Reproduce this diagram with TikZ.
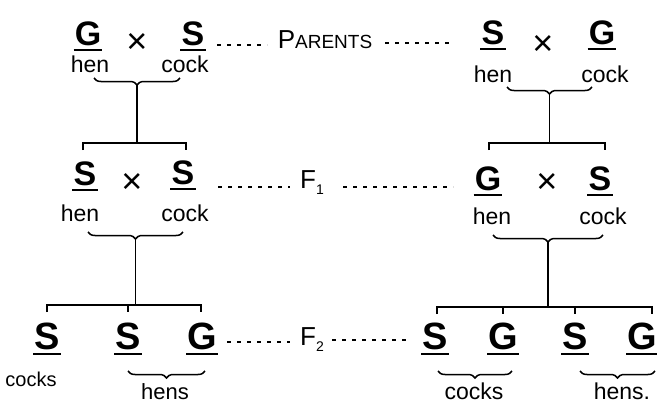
\documentclass[tikz,border=0pt]{standalone}
\usepackage{fontspec}
\setmainfont{Liberation Sans}
\usetikzlibrary{decorations.pathreplacing}
\begin{document}
\begin{tikzpicture}[x=1pt,y=1pt,
 gene/.style={font=\fontsize{34}{38}\selectfont\bfseries, inner sep=0pt},
 geneb/.style={font=\fontsize{38}{42}\selectfont\bfseries, inner sep=0pt},
 cross/.style={font=\fontsize{36}{38}\selectfont, inner sep=0pt},
 lab/.style={font=\fontsize{23}{26}\selectfont, inner sep=0pt},
 gen/.style={font=\fontsize{26}{28}\selectfont, inner sep=0pt},
 ln/.style={line width=1.5pt},
 ul/.style={line width=2.2pt},
 dots/.style={line width=1.8pt, dash pattern=on 4pt off 6pt},
 brc/.style={line width=1.5pt, decorate, decoration={brace, mirror, amplitude=7pt}},
]
\useasboundingbox (0,0) rectangle (657,-407);

% ---------- Row 1: parents ----------
\node[gene] (G1a) at (88,-34) {G};
\node[cross] (X1a) at (137,-43) {×};
\node[gene] (S1a) at (193,-34) {S};
\node[lab] (hen1a) at (90,-64) {hen};
\node[lab] (cock1a) at (185,-64) {cock};
\node[gen] (PAR) at (325,-40) {P\fontsize{19}{20}\selectfont ARENTS};
\node[gene] (S1b) at (493,-33) {S};
\node[cross] (X1b) at (543,-45) {×};
\node[gene] (G1b) at (602,-33) {G};
\node[lab] (hen1b) at (493,-74) {hen};
\node[lab] (cock1b) at (605,-74) {cock};

\coordinate (d1a) at (217,-45); \coordinate (d1b) at (267,-45);
\coordinate (d1c) at (385,-43); \coordinate (d1d) at (453,-43);
\draw[dots] (d1a) -- (d1b);
\draw[dots] (d1c) -- (d1d);

% braces row 1
\coordinate (b1aL) at (94,-78); \coordinate (b1aR) at (180,-78); \coordinate (b1aT) at (137,-85);
\draw[brc] (b1aL) -- (b1aR);
\coordinate (b1bL) at (507,-87); \coordinate (b1bR) at (592,-87); \coordinate (b1bT) at (549.5,-94);
\draw[brc] (b1bL) -- (b1bR);

% brackets to row 2
\coordinate (k2aM) at (137,-143);
\coordinate (k2aL) at (83,-143); \coordinate (k2aR) at (186,-143);
\draw[ln] (b1aT) -- (k2aM);
\draw[ln] ([yshift=-7pt]k2aL) -- (k2aL) -- (k2aR) -- ([yshift=-7pt]k2aR);
\coordinate (k2bM) at (549.5,-143);
\coordinate (k2bL) at (489,-143); \coordinate (k2bR) at (605,-143);
\draw[ln] (b1bT) -- (k2bM);
\draw[ln] ([yshift=-7pt]k2bL) -- (k2bL) -- (k2bR) -- ([yshift=-7pt]k2bR);

% ---------- Row 2: F1 ----------
\node[gene] (S2a) at (85,-174) {S};
\node[cross] (X2a) at (132,-183) {×};
\node[gene] (S2b) at (183,-173) {S};
\node[lab] (hen2a) at (80,-213) {hen};
\node[lab] (cock2a) at (185,-213) {cock};
\node[gen] (F1) at (312,-183) {F\raisebox{-6pt}{\fontsize{14}{14}\selectfont 1}};
\node[gene] (G2b) at (488,-179) {G};
\node[cross] (X2b) at (547,-183) {×};
\node[gene] (S2c) at (600,-179) {S};
\node[lab] (hen2b) at (492,-216) {hen};
\node[lab] (cock2b) at (603,-216) {cock};

\coordinate (d2a) at (218,-187); \coordinate (d2b) at (290,-187);
\coordinate (d2c) at (343,-187); \coordinate (d2d) at (453,-187);
\draw[dots] (d2a) -- (d2b);
\draw[dots] (d2c) -- (d2d);

% braces row 2
\coordinate (b2aL) at (88,-232); \coordinate (b2aR) at (183,-232); \coordinate (b2aT) at (135.5,-239);
\draw[brc] (b2aL) -- (b2aR);
\coordinate (b2bL) at (493,-235); \coordinate (b2bR) at (603,-235); \coordinate (b2bT) at (548,-242);
\draw[brc] (b2bL) -- (b2bR);

% brackets to row 3
\coordinate (k3aM) at (135.5,-305);
\coordinate (k3aL) at (47,-305); \coordinate (k3aC) at (128,-305); \coordinate (k3aR) at (201,-305);
\draw[ln] (b2aT) -- (k3aM);
\draw[ln] ([yshift=-7pt]k3aL) -- (k3aL) -- (k3aR) -- ([yshift=-7pt]k3aR);
\draw[ln] (k3aC) -- ([yshift=-7pt]k3aC);
\coordinate (k3bM) at (548,-307);
\coordinate (k3bL) at (437,-307); \coordinate (k3bC1) at (503,-307);
\coordinate (k3bC2) at (575,-307); \coordinate (k3bR) at (652,-307);
\draw[ln] (b2bT) -- (k3bM);
\draw[ln] ([yshift=-7pt]k3bL) -- (k3bL) -- (k3bR) -- ([yshift=-7pt]k3bR);
\draw[ln] (k3bC1) -- ([yshift=-7pt]k3bC1);
\draw[ln] (k3bC2) -- ([yshift=-7pt]k3bC2);

% ---------- Row 3: F2 ----------
\node[geneb] (S3a) at (47,-336) {S};
\node[geneb] (S3b) at (128,-336) {S};
\node[geneb] (G3a) at (202,-336) {G};
\node[geneb] (S3c) at (435,-336) {S};
\node[geneb] (G3b) at (503,-336) {G};
\node[geneb] (S3d) at (575,-336) {S};
\node[geneb] (G3c) at (642,-336) {G};
\node[gen] (F2) at (312,-340) {F\raisebox{-6pt}{\fontsize{14}{14}\selectfont 2}};
\node[lab, font=\fontsize{20}{22}\selectfont] (cocks3a) at (31,-379) {cocks};
\node[lab, font=\fontsize{22}{24}\selectfont] (hens3a) at (165,-392) {hens};
\node[lab, font=\fontsize{23}{26}\selectfont] (cocks3b) at (474,-391) {cocks};
\node[lab, font=\fontsize{23}{26}\selectfont] (hens3b) at (622,-391) {hens.};

\coordinate (d3a) at (227,-342); \coordinate (d3b) at (290,-342);
\coordinate (d3c) at (332,-340); \coordinate (d3d) at (407,-340);
\draw[dots] (d3a) -- (d3b);
\draw[dots] (d3c) -- (d3d);

\coordinate (b3aL) at (128,-371); \coordinate (b3aR) at (205,-371);
\draw[brc] (b3aL) -- (b3aR);
\coordinate (b3bL) at (438,-371); \coordinate (b3bR) at (512,-371);
\draw[brc] (b3bL) -- (b3bR);
\coordinate (b3cL) at (580,-371); \coordinate (b3cR) at (655,-371);
\draw[brc] (b3cL) -- (b3cR);

% underlines
\foreach \n in {G1a,S1a,S1b,G1b,S2a,S2b,G2b,S2c,S3a,S3b,G3a,S3c,G3b,S3d,G3c}
  \draw[ul] ([shift={(-1pt,-4pt)}]\n.south west) -- ([shift={(1pt,-4pt)}]\n.south east);
\end{tikzpicture}
\end{document}
